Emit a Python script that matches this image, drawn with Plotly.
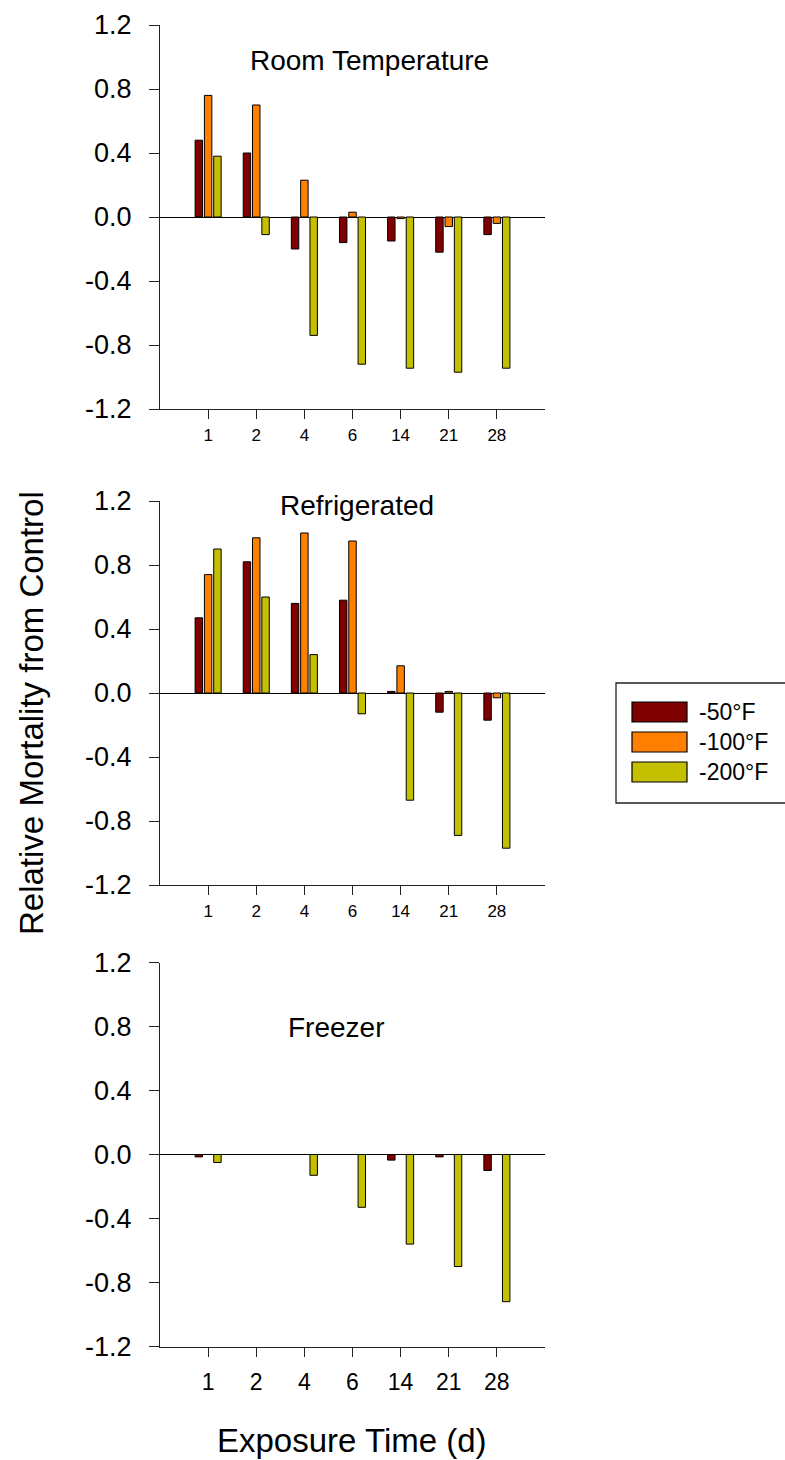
import plotly.graph_objects as go

categories = ["1", "2", "4", "6", "14", "21", "28"]
series_names = ["-50°F", "-100°F", "-200°F"]
series_colors = ["#7F0000", "#FF8000", "#C4C000"]
panel_titles = ["Room Temperature", "Refrigerated", "Freezer"]

room_50 = [0.48, 0.40, -0.20, -0.16, -0.15, -0.22, -0.11]
room_100 = [0.76, 0.70, 0.23, 0.03, -0.01, -0.06, -0.04]
room_200 = [0.38, -0.11, -0.74, -0.92, -0.945, -0.97, -0.945]

fridge_50 = [0.47, 0.82, 0.56, 0.58, 0.01, -0.12, -0.17]
fridge_100 = [0.74, 0.97, 1.00, 0.95, 0.17, 0.01, -0.03]
fridge_200 = [0.90, 0.60, 0.24, -0.13, -0.67, -0.89, -0.97]

freezer_50 = [-0.015, 0.0, 0.0, 0.0, -0.035, -0.015, -0.10]
freezer_100 = [0.0, 0.0, 0.0, 0.0, 0.0, 0.0, 0.0]
freezer_200 = [-0.05, 0.0, -0.13, -0.33, -0.56, -0.70, -0.92]

y_tick_vals = [-1.2, -0.8, -0.4, 0.0, 0.4, 0.8, 1.2]
y_tick_text = ["-1.2", "-0.8", "-0.4", "0.0", "0.4", "0.8", "1.2"]

panels = [
    [room_50, room_100, room_200],
    [fridge_50, fridge_100, fridge_200],
    [freezer_50, freezer_100, freezer_200],
]

W, H = 785, 1460
FONT = "Liberation Sans, Arial, sans-serif"


def px(x):
    return x / W


def py(y):
    return 1 - y / H


# pixel boxes of the three plot areas (top, bottom)
panel_boxes = [(25, 409), (501, 885), (962.5, 1346.5)]
x_left, x_right = 160, 545

fig = go.Figure()
layout = dict(
    width=W, height=H,
    margin=dict(l=0, r=0, t=0, b=0, pad=0, autoexpand=False),
    paper_bgcolor="white", plot_bgcolor="white",
    barmode="group", bargap=0.42, bargroupgap=0.2,
    showlegend=False,
    font=dict(family=FONT, color="black"),
)

annotations = []
shapes = []

for i, series in enumerate(panels):
    n = i + 1
    xa = "x" if n == 1 else f"x{n}"
    ya = "y" if n == 1 else f"y{n}"
    for name, vals, col in zip(series_names, series, series_colors):
        fig.add_trace(go.Bar(
            x=categories, y=vals, name=name, xaxis=xa, yaxis=ya,
            marker=dict(color=col, line=dict(color="black", width=1)),
        ))
    top, bot = panel_boxes[i]
    xkey = "xaxis" if n == 1 else f"xaxis{n}"
    ykey = "yaxis" if n == 1 else f"yaxis{n}"
    last = (n == 3)
    layout[xkey] = dict(
        domain=[px(x_left), px(x_right)], anchor=ya,
        type="category", range=[-1, 7],
        showline=True, linecolor="#222", linewidth=1.3,
        ticks="outside", ticklen=9, tickwidth=1.3, tickcolor="#222",
        tickfont=dict(size=23 if last else 17, family=FONT, color="black"),
        ticklabelstandoff=6 if last else 1,
        showgrid=False, zeroline=False, fixedrange=True, automargin=False,
    )
    layout[ykey] = dict(
        domain=[py(bot), py(top)], anchor=xa,
        range=[-1.2, 1.2], tickvals=y_tick_vals, ticktext=y_tick_text,
        showline=True, linecolor="#222", linewidth=1.3,
        ticks="outside", ticklen=10, tickwidth=1.3, tickcolor="#222",
        tickfont=dict(size=27, family=FONT, color="black"),
        ticklabelstandoff=12,
        showgrid=False, zeroline=True, zerolinecolor="black", zerolinewidth=1.3,
        fixedrange=True, automargin=False,
    )

# panel titles
title_pos = [(369, 61), (357, 506), (336, 1027)]
for t, (tx, ty) in zip(panel_titles, title_pos):
    annotations.append(dict(
        text=t, x=px(tx), y=py(ty), xref="paper", yref="paper",
        xanchor="center", yanchor="middle", showarrow=False,
        font=dict(size=28, family=FONT, color="black"),
    ))

# axis titles
annotations.append(dict(
    text="Relative Mortality from Control", x=px(31), y=py(713),
    xref="paper", yref="paper", xanchor="center", yanchor="middle",
    textangle=-90, showarrow=False, font=dict(size=33, family=FONT, color="black"),
))
annotations.append(dict(
    text="Exposure Time (d)", x=px(352), y=py(1440),
    xref="paper", yref="paper", xanchor="center", yanchor="middle",
    showarrow=False, font=dict(size=33, family=FONT, color="black"),
))

# legend box (custom, drawn in paper space)
shapes.append(dict(type="rect", xref="paper", yref="paper",
                   x0=px(616), x1=px(800), y0=py(803), y1=py(683),
                   line=dict(color="#222", width=1.3), fillcolor="white", layer="below"))
row_centers = [712, 742, 772]
for name, col, cy in zip(series_names, series_colors, row_centers):
    shapes.append(dict(type="rect", xref="paper", yref="paper",
                       x0=px(632), x1=px(687), y0=py(cy + 10), y1=py(cy - 10),
                       line=dict(color="black", width=1.2), fillcolor=col))
    annotations.append(dict(
        text=name, x=px(697), y=py(cy), xref="paper", yref="paper",
        xanchor="left", yanchor="middle", showarrow=False,
        font=dict(size=23, family=FONT, color="black"),
    ))

layout["annotations"] = annotations
layout["shapes"] = shapes
fig.update_layout(**layout)

fig.write_html(
    "out.html",
    config={"displayModeBar": False},
    post_script="document.body.style.margin='0';document.body.style.padding='0';"
                "document.documentElement.style.overflow='hidden';",
)
